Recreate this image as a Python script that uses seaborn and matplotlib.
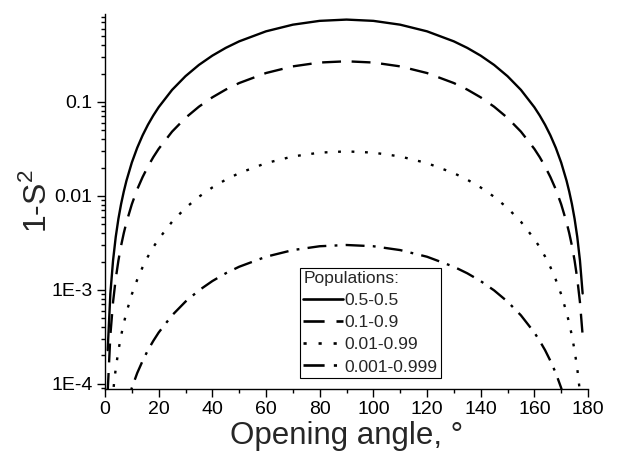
import matplotlib
matplotlib.use("Agg")
import matplotlib.pyplot as plt
import matplotlib.ticker as mticker
import seaborn as sns
import pandas as pd

# ---- data ----
angles = [1, 2, 3, 4, 5, 6, 7, 8, 10, 12, 14, 16, 18, 20, 25, 30, 35, 40, 45, 50,
          60, 70, 80, 90, 100, 110, 120, 130, 135, 140, 145, 150, 155, 160, 162,
          164, 166, 168, 170, 172, 173, 174, 175, 176, 177, 178]

pop_05_05 = [2.28e-4, 9.14e-4, 2.05e-3, 3.65e-3, 5.70e-3, 8.19e-3, 1.11e-2, 1.45e-2,
             2.26e-2, 3.24e-2, 4.39e-2, 5.70e-2, 7.16e-2, 8.77e-2, 0.134, 0.1875,
             0.247, 0.310, 0.375, 0.440, 0.5625, 0.662, 0.727, 0.75, 0.727, 0.662,
             0.5625, 0.440, 0.375, 0.310, 0.247, 0.1875, 0.134, 8.77e-2, 7.16e-2,
             5.70e-2, 4.39e-2, 3.24e-2, 2.26e-2, 1.45e-2, 1.11e-2, 8.19e-3, 5.70e-3,
             3.65e-3, 2.05e-3, 9.14e-4]

pop_01_09 = [8.2e-5, 3.29e-4, 7.40e-4, 1.31e-3, 2.05e-3, 2.95e-3, 4.01e-3, 5.23e-3,
             8.14e-3, 1.17e-2, 1.58e-2, 2.05e-2, 2.58e-2, 3.16e-2, 4.82e-2, 6.75e-2,
             8.88e-2, 0.1116, 0.135, 0.1584, 0.2025, 0.2384, 0.2619, 0.27, 0.2619,
             0.2384, 0.2025, 0.1584, 0.135, 0.1116, 8.88e-2, 6.75e-2, 4.82e-2,
             3.16e-2, 2.58e-2, 2.05e-2, 1.58e-2, 1.17e-2, 8.14e-3, 5.23e-3, 4.01e-3,
             2.95e-3, 2.05e-3, 1.31e-3, 7.40e-4, 3.29e-4]

pop_001_099 = [9.05e-6, 3.62e-5, 8.13e-5, 1.45e-4, 2.26e-4, 3.25e-4, 4.41e-4, 5.75e-4,
               8.96e-4, 1.28e-3, 1.74e-3, 2.26e-3, 2.84e-3, 3.47e-3, 5.30e-3, 7.43e-3,
               9.77e-3, 1.227e-2, 1.485e-2, 1.743e-2, 2.228e-2, 2.623e-2, 2.880e-2,
               2.97e-2, 2.880e-2, 2.623e-2, 2.228e-2, 1.743e-2, 1.485e-2, 1.227e-2,
               9.77e-3, 7.43e-3, 5.30e-3, 3.47e-3, 2.84e-3, 2.26e-3, 1.74e-3, 1.28e-3,
               8.96e-4, 5.75e-4, 4.41e-4, 3.25e-4, 2.26e-4, 1.45e-4, 8.13e-5, 3.62e-5]

pop_0001_0999 = [9.1e-7, 3.65e-6, 8.21e-6, 1.46e-5, 2.28e-5, 3.27e-5, 4.45e-5, 5.80e-5,
                 9.04e-5, 1.30e-4, 1.75e-4, 2.28e-4, 2.86e-4, 3.51e-4, 5.35e-4, 7.49e-4,
                 9.86e-4, 1.238e-3, 1.499e-3, 1.759e-3, 2.248e-3, 2.646e-3, 2.907e-3,
                 2.997e-3, 2.907e-3, 2.646e-3, 2.248e-3, 1.759e-3, 1.499e-3, 1.238e-3,
                 9.86e-4, 7.49e-4, 5.35e-4, 3.51e-4, 2.86e-4, 2.28e-4, 1.75e-4, 1.30e-4,
                 9.04e-5, 5.80e-5, 4.45e-5, 3.27e-5, 2.28e-5, 1.46e-5, 8.21e-6, 3.65e-6]

series_names = ["0.5-0.5", "0.1-0.9", "0.01-0.99", "0.001-0.999"]
series_values = [pop_05_05, pop_01_09, pop_001_099, pop_0001_0999]

xtick_values = [0, 20, 40, 60, 80, 100, 120, 140, 160, 180]
ytick_values = [1e-4, 1e-3, 1e-2, 1e-1]
ytick_labels = ["1E-4", "1E-3", "0.01", "0.1"]

# ---- long-form table ----
rows = []
for name, vals in zip(series_names, series_values):
    for a, v in zip(angles, vals):
        rows.append({"angle": a, "value": v, "pop": name})
df = pd.DataFrame(rows)

sns.set_theme(style="ticks")
plt.rcParams["font.family"] = ["Liberation Sans", "DejaVu Sans"]
plt.rcParams["mathtext.fontset"] = "custom"
plt.rcParams["mathtext.rm"] = "Liberation Sans"

fig = plt.figure(figsize=(6.32, 4.53), dpi=100)
ax = fig.add_axes([105 / 632, 1 - 389 / 453, (588 - 105) / 632, (389 - 14) / 453])

dash_map = {
    "0.5-0.5": "",
    "0.1-0.9": (8, 4.5),
    "0.01-0.99": (1.2, 4.5),
    "0.001-0.999": (8, 3.5, 1.2, 3.5),
}
sns.lineplot(data=df, x="angle", y="value", hue="pop", style="pop",
             hue_order=series_names, style_order=series_names,
             palette=["black"] * 4, dashes=dash_map, linewidth=1.7,
             ax=ax, legend=True)

ax.set_yscale("log")
ax.set_xlim(0, 180)
ax.set_ylim(8.8e-5, 0.86)

ax.set_xticks(xtick_values)
ax.xaxis.set_minor_locator(mticker.MultipleLocator(10))
ax.set_yticks(ytick_values)
ax.set_yticklabels(ytick_labels)
ax.yaxis.set_minor_locator(mticker.LogLocator(base=10, subs=range(2, 10)))
ax.yaxis.set_minor_formatter(mticker.NullFormatter())

ax.tick_params(which="major", direction="out", length=6, width=1, labelsize=14,
               colors="black", pad=3)
ax.tick_params(which="minor", direction="out", length=3, width=1, colors="black")

for side in ["top", "right"]:
    ax.spines[side].set_visible(False)
for side in ["left", "bottom"]:
    ax.spines[side].set_color("black")
    ax.spines[side].set_linewidth(1.0)

ax.set_xlabel("Opening angle, °", fontsize=22.5, labelpad=2)
ax.set_ylabel(r"1-S$^{\mathregular{2}}$", fontsize=23, labelpad=-1)

handles, labels = ax.get_legend_handles_labels()
leg = ax.legend(handles, labels, title="Populations:", loc="lower left",
                bbox_to_anchor=(300 / 632, 1 - 378 / 453),
                bbox_transform=fig.transFigure, borderaxespad=0,
                fontsize=12.5, title_fontsize=12.5, frameon=True, fancybox=False,
                edgecolor="black", framealpha=1, handlelength=2.3,
                handletextpad=0.08, labelspacing=0.4, borderpad=0.2,
                alignment="left")
leg.get_frame().set_linewidth(0.8)
for line in leg.get_lines():
    line.set_linewidth(1.9)

fig.savefig("out.png", dpi=100)
